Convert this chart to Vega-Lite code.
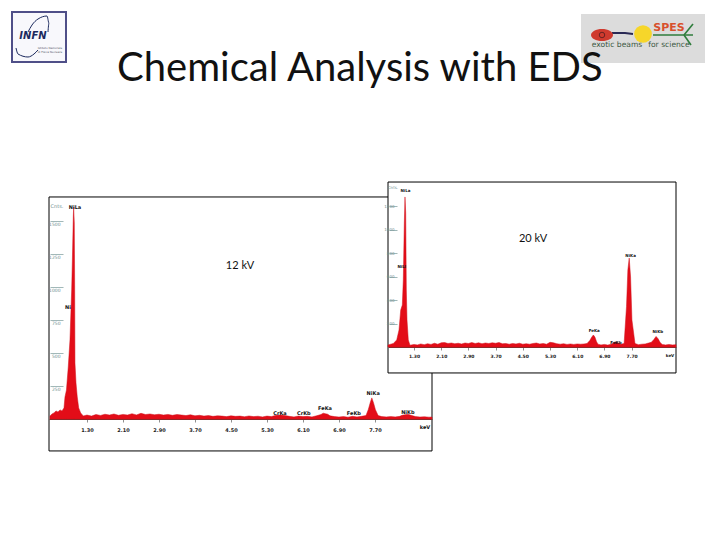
{
"$schema":"https://vega.github.io/schema/vega-lite/v6.json",
"width":720,"height":540,"padding":0,"autosize":{"type":"none"},"background":"white",
"config":{"view":{"stroke":null}},
"title":{"text":"Chemical Analysis with EDS","anchor":"start","orient":"top","frame":"group","dx":117,"offset":-121,"font":"Lato","fontSize":40,"fontWeight":"normal","color":"#111111","baseline":"alphabetic"},
"datasets":{
"s1":[{"kev":0.478,"count":23},{"kev":0.522,"count":38},{"kev":0.567,"count":46},{"kev":0.611,"count":61},{"kev":0.656,"count":53},{"kev":0.7,"count":69},{"kev":0.744,"count":61},{"kev":0.789,"count":84},{"kev":0.811,"count":167},{"kev":0.844,"count":220},{"kev":0.884,"count":394},{"kev":0.922,"count":599},{"kev":0.96,"count":978},{"kev":0.982,"count":1303},{"kev":0.996,"count":1531},{"kev":1.004,"count":1606},{"kev":1.018,"count":1485},{"kev":1.027,"count":978},{"kev":1.033,"count":425},{"kev":1.056,"count":273},{"kev":1.084,"count":167},{"kev":1.116,"count":84},{"kev":1.16,"count":46},{"kev":1.218,"count":23},{"kev":1.3,"count":30},{"kev":1.4,"count":22},{"kev":1.5,"count":34},{"kev":1.6,"count":27},{"kev":1.7,"count":36},{"kev":1.8,"count":30},{"kev":1.9,"count":38},{"kev":2.0,"count":28},{"kev":2.1,"count":35},{"kev":2.2,"count":30},{"kev":2.3,"count":40},{"kev":2.4,"count":31},{"kev":2.5,"count":43},{"kev":2.6,"count":34},{"kev":2.7,"count":38},{"kev":2.8,"count":32},{"kev":2.9,"count":36},{"kev":3.0,"count":30},{"kev":3.1,"count":35},{"kev":3.2,"count":28},{"kev":3.3,"count":34},{"kev":3.4,"count":30},{"kev":3.5,"count":26},{"kev":3.6,"count":32},{"kev":3.7,"count":24},{"kev":3.8,"count":28},{"kev":3.9,"count":22},{"kev":4.0,"count":26},{"kev":4.1,"count":20},{"kev":4.2,"count":24},{"kev":4.3,"count":22},{"kev":4.4,"count":18},{"kev":4.5,"count":24},{"kev":4.6,"count":20},{"kev":4.7,"count":22},{"kev":4.8,"count":17},{"kev":4.9,"count":23},{"kev":5.0,"count":18},{"kev":5.1,"count":21},{"kev":5.2,"count":16},{"kev":5.3,"count":22},{"kev":5.4,"count":18},{"kev":5.5,"count":28},{"kev":5.6,"count":30},{"kev":5.7,"count":26},{"kev":5.8,"count":20},{"kev":5.9,"count":16},{"kev":6.0,"count":22},{"kev":6.1,"count":18},{"kev":6.2,"count":20},{"kev":6.3,"count":16},{"kev":6.4,"count":24},{"kev":6.5,"count":34},{"kev":6.55,"count":44},{"kev":6.6,"count":40},{"kev":6.65,"count":36},{"kev":6.7,"count":24},{"kev":6.8,"count":18},{"kev":6.9,"count":15},{"kev":7.0,"count":18},{"kev":7.1,"count":14},{"kev":7.2,"count":20},{"kev":7.3,"count":16},{"kev":7.4,"count":20},{"kev":7.5,"count":26},{"kev":7.55,"count":70},{"kev":7.6,"count":130},{"kev":7.63,"count":160},{"kev":7.67,"count":120},{"kev":7.71,"count":70},{"kev":7.77,"count":26},{"kev":7.85,"count":18},{"kev":7.95,"count":16},{"kev":8.05,"count":18},{"kev":8.15,"count":16},{"kev":8.25,"count":20},{"kev":8.3,"count":28},{"kev":8.4,"count":34},{"kev":8.45,"count":34},{"kev":8.5,"count":28},{"kev":8.6,"count":18},{"kev":8.7,"count":15},{"kev":8.8,"count":17},{"kev":8.9,"count":14},{"kev":8.967,"count":15}],
"s1frame":[{"kev":0.456,"kev2":8.967,"count":-242,"count2":1682}],
"s1labels":[{"kev":1.033,"count":1606,"label":"NiLa"},{"kev":0.878,"count":848,"label":"Ni"},{"kev":5.59,"count":45,"label":"CrKa"},{"kev":6.12,"count":45,"label":"CrKb"},{"kev":6.59,"count":83,"label":"FeKa"},{"kev":7.23,"count":45,"label":"FeKb"},{"kev":7.66,"count":197,"label":"NiKa"},{"kev":8.43,"count":53,"label":"NiKb"},{"kev":8.81,"count":-61,"label":"keV"}],
"s1cnts":[{"kev":0.633,"count":1614,"label":"Cnts."}],
"s1note":[{"kev":4.7,"count":1159,"label":"12 kV"}],
"s2":[{"kev":0.535,"count":17},{"kev":0.565,"count":20},{"kev":0.692,"count":30},{"kev":0.791,"count":60},{"kev":0.859,"count":145},{"kev":0.909,"count":315},{"kev":0.956,"count":357},{"kev":0.985,"count":570},{"kev":1.015,"count":1055},{"kev":1.035,"count":1277},{"kev":1.056,"count":1140},{"kev":1.074,"count":485},{"kev":1.094,"count":230},{"kev":1.132,"count":60},{"kev":1.182,"count":15},{"kev":1.3,"count":22},{"kev":1.4,"count":18},{"kev":1.5,"count":26},{"kev":1.6,"count":20},{"kev":1.7,"count":28},{"kev":1.8,"count":22},{"kev":1.9,"count":32},{"kev":2.0,"count":24},{"kev":2.1,"count":36},{"kev":2.2,"count":38},{"kev":2.3,"count":30},{"kev":2.4,"count":34},{"kev":2.5,"count":28},{"kev":2.6,"count":32},{"kev":2.7,"count":26},{"kev":2.8,"count":34},{"kev":2.9,"count":30},{"kev":3.0,"count":38},{"kev":3.1,"count":30},{"kev":3.2,"count":36},{"kev":3.3,"count":28},{"kev":3.4,"count":34},{"kev":3.5,"count":30},{"kev":3.6,"count":36},{"kev":3.7,"count":32},{"kev":3.8,"count":38},{"kev":3.9,"count":28},{"kev":4.0,"count":30},{"kev":4.1,"count":24},{"kev":4.2,"count":30},{"kev":4.3,"count":26},{"kev":4.4,"count":32},{"kev":4.5,"count":24},{"kev":4.6,"count":28},{"kev":4.7,"count":24},{"kev":4.8,"count":30},{"kev":4.9,"count":34},{"kev":5.0,"count":26},{"kev":5.1,"count":30},{"kev":5.2,"count":24},{"kev":5.3,"count":40},{"kev":5.4,"count":36},{"kev":5.5,"count":28},{"kev":5.6,"count":24},{"kev":5.7,"count":28},{"kev":5.8,"count":22},{"kev":5.9,"count":26},{"kev":6.0,"count":22},{"kev":6.1,"count":26},{"kev":6.2,"count":24},{"kev":6.3,"count":26},{"kev":6.39,"count":30},{"kev":6.47,"count":55},{"kev":6.53,"count":85},{"kev":6.575,"count":102},{"kev":6.62,"count":85},{"kev":6.67,"count":45},{"kev":6.71,"count":24},{"kev":6.8,"count":18},{"kev":6.9,"count":22},{"kev":7.0,"count":16},{"kev":7.1,"count":24},{"kev":7.18,"count":36},{"kev":7.23,"count":42},{"kev":7.3,"count":36},{"kev":7.38,"count":24},{"kev":7.48,"count":30},{"kev":7.55,"count":343},{"kev":7.59,"count":655},{"kev":7.63,"count":757},{"kev":7.67,"count":596},{"kev":7.71,"count":230},{"kev":7.8,"count":30},{"kev":7.9,"count":20},{"kev":8.0,"count":24},{"kev":8.1,"count":26},{"kev":8.2,"count":34},{"kev":8.28,"count":40},{"kev":8.35,"count":62},{"kev":8.42,"count":90},{"kev":8.48,"count":70},{"kev":8.54,"count":38},{"kev":8.6,"count":22},{"kev":8.7,"count":18},{"kev":8.8,"count":22},{"kev":8.9,"count":18},{"kev":9.006,"count":20}],
"s2frame":[{"kev":0.535,"kev2":9.006,"count":-221,"count2":1404}],
"s2labels":[{"kev":1.05,"count":1330,"label":"NiLa"},{"kev":0.94,"count":681,"label":"NiLl"},{"kev":6.6,"count":134,"label":"FeKa"},{"kev":7.24,"count":37,"label":"FeKb"},{"kev":7.67,"count":777,"label":"NiKa"},{"kev":8.47,"count":128,"label":"NiKb"},{"kev":8.83,"count":-74,"label":"keV"}],
"s2cnts":[{"kev":0.68,"count":1353,"label":"Cnts."}],
"s2note":[{"kev":4.8,"count":919,"label":"20 kV"}],
"infnBox":[{"a":0,"a2":54,"b":0,"b2":50}],
"infnArcs":[{"part":"upper","seq":1,"a":16,"b":20},{"part":"upper","seq":2,"a":20,"b":13},{"part":"upper","seq":3,"a":26,"b":7},{"part":"upper","seq":4,"a":35,"b":4},{"part":"upper","seq":5,"a":37,"b":11},{"part":"upper","seq":6,"a":36,"b":20},{"part":"lower","seq":1,"a":4,"b":36},{"part":"lower","seq":2,"a":6,"b":42},{"part":"lower","seq":3,"a":16,"b":45},{"part":"lower","seq":4,"a":22,"b":42},{"part":"lower","seq":5,"a":26,"b":38}],
"infnWord":[{"a":21,"b":24,"label":"INFN"}],
"infnSmall":[{"a":38,"b":36,"label":"Istituto Nazionale"},{"a":38,"b":40,"label":"di Fisica Nucleare"}],
"spesBox":[{"a":0,"a2":124,"b":0,"b2":49}],
"spesYellow":[{"a":62,"b":20}],
"spesRed":[{"a":21,"b":21}],
"spesDark":[{"part":"beam","a":31,"b":19},{"part":"beam","a":44,"b":19},{"part":"beam","a":52,"b":20}],
"spesGreen":[{"part":"stem","a":72,"b":21},{"part":"stem","a":112,"b":21},{"part":"up","a":103,"b":21},{"part":"up","a":112,"b":10},{"part":"down","a":103,"b":21},{"part":"down","a":110,"b":31}],
"spesWord":[{"a":88,"b":14,"label":"SPES"}],
"spesCaption":[{"a":36,"b":31,"label":"exotic beams"},{"a":88,"b":31,"label":"for science"}]
},
"resolve":{"scale":{"x":"independent","y":"independent"},"axis":{"x":"independent","y":"independent"}},
"layer":[
{"encoding":{
 "x":{"field":"kev","type":"quantitative","scale":{"domain":[0.456,8.967],"range":[49,432],"nice":false,"zero":false},"axis":{"orient":"bottom","offset":-121,"values":[1.3,2.1,2.9,3.7,4.5,5.3,6.1,6.9,7.7],"format":".2f","title":null,"grid":false,"zindex":1,"domainColor":"#8a2a2a","domainWidth":1,"tickColor":"#444444","tickSize":3,"tickWidth":0.6,"labelFont":"DejaVu Sans","labelFontWeight":"bold","labelFontSize":5,"labelColor":"#222222","labelPadding":5,"labelOverlap":false,"labelFlush":false}},
 "y":{"field":"count","type":"quantitative","scale":{"domain":[-500,1750],"range":[485,188],"nice":false,"zero":false},"axis":{"orient":"left","offset":-63,"values":[250,500,750,1000,1250,1500],"title":null,"grid":false,"zindex":1,"domain":false,"tickColor":"#7a9a9a","tickSize":13,"tickWidth":0.7,"labelFont":"DejaVu Sans","labelFontSize":4.5,"labelColor":"#6f9090","labelPadding":-10,"labelAlign":"right","labelBaseline":"top","format":"d","labelOverlap":false,"labelFlush":false}}},
"layer":[
{"data":{"name":"s1frame"},"mark":{"type":"rect","fill":"white","stroke":"black","strokeWidth":1},"encoding":{"x2":{"field":"kev2"},"y2":{"field":"count2"}}},
{"data":{"name":"s1"},"mark":{"type":"area","orient":"vertical","color":"#e30d18","stroke":"#d0101a","strokeWidth":0.5},"encoding":{"y2":{"datum":0}}},
{"data":{"name":"s1labels"},"mark":{"type":"text","font":"DejaVu Sans","fontWeight":"bold","fontSize":5,"color":"#111111"},"encoding":{"text":{"field":"label"}}},
{"data":{"name":"s1cnts"},"mark":{"type":"text","font":"DejaVu Sans","fontSize":5,"color":"#6f9090"},"encoding":{"text":{"field":"label"}}},
{"data":{"name":"s1note"},"mark":{"type":"text","font":"Lato","fontSize":11,"color":"#111111"},"encoding":{"text":{"field":"label"}}}
]},
{"encoding":{
 "x":{"field":"kev","type":"quantitative","scale":{"domain":[0.535,9.006],"range":[388,676],"nice":false,"zero":false},"axis":{"orient":"bottom","offset":-193,"values":[1.3,2.1,2.9,3.7,4.5,5.3,6.1,6.9,7.7],"format":".2f","title":null,"grid":false,"zindex":1,"domainColor":"#8a2a2a","domainWidth":1,"tickColor":"#444444","tickSize":3,"tickWidth":0.6,"labelFont":"DejaVu Sans","labelFontWeight":"bold","labelFontSize":4.5,"labelColor":"#222222","labelPadding":3,"labelOverlap":false,"labelFlush":false}},
 "y":{"field":"count","type":"quantitative","scale":{"domain":[-300,1500],"range":[382.25,170.75],"nice":false,"zero":false},"axis":{"orient":"left","offset":-397,"values":[200,400,600,800,1000,1200],"title":null,"grid":false,"zindex":1,"domain":false,"tickColor":"#7a9a9a","tickSize":8,"tickWidth":0.7,"labelFont":"DejaVu Sans","labelFontSize":4,"labelColor":"#6f9090","labelPadding":-5,"labelAlign":"right","labelBaseline":"middle","format":"d","labelOverlap":false,"labelFlush":false}}},
"layer":[
{"data":{"name":"s2frame"},"mark":{"type":"rect","fill":"white","stroke":"black","strokeWidth":1},"encoding":{"x2":{"field":"kev2"},"y2":{"field":"count2"}}},
{"data":{"name":"s2"},"mark":{"type":"area","orient":"vertical","color":"#e30d18","stroke":"#d0101a","strokeWidth":0.5},"encoding":{"y2":{"datum":0}}},
{"data":{"name":"s2labels"},"mark":{"type":"text","font":"DejaVu Sans","fontWeight":"bold","fontSize":4,"color":"#111111"},"encoding":{"text":{"field":"label"}}},
{"data":{"name":"s2cnts"},"mark":{"type":"text","font":"DejaVu Sans","fontSize":4,"color":"#6f9090"},"encoding":{"text":{"field":"label"}}},
{"data":{"name":"s2note"},"mark":{"type":"text","font":"Lato","fontSize":11,"color":"#111111"},"encoding":{"text":{"field":"label"}}}
]},
{"encoding":{
 "x":{"field":"a","type":"quantitative","axis":null,"scale":{"domain":[0,54],"range":[12,66],"nice":false,"zero":false}},
 "y":{"field":"b","type":"quantitative","axis":null,"scale":{"domain":[0,50],"range":[12,62],"nice":false,"zero":false}}},
"layer":[
{"data":{"name":"infnBox"},"mark":{"type":"rect","fill":"#f8f8fc","stroke":"#4f4f88","strokeWidth":2},"encoding":{"x2":{"field":"a2"},"y2":{"field":"b2"}}},
{"data":{"name":"infnArcs"},"mark":{"type":"line","interpolate":"monotone","color":"#1c2a5e","strokeWidth":1},"encoding":{"detail":{"field":"part"},"order":{"field":"seq","type":"quantitative"}}},
{"data":{"name":"infnWord"},"mark":{"type":"text","font":"DejaVu Sans","fontSize":10,"fontWeight":"bold","fontStyle":"italic","color":"#1c2a5e"},"encoding":{"text":{"field":"label"}}},
{"data":{"name":"infnSmall"},"mark":{"type":"text","font":"DejaVu Sans","fontSize":2.8,"color":"#555566"},"encoding":{"text":{"field":"label"}}}
]},
{"encoding":{
 "x":{"field":"a","type":"quantitative","axis":null,"scale":{"domain":[0,124],"range":[581,705],"nice":false,"zero":false}},
 "y":{"field":"b","type":"quantitative","axis":null,"scale":{"domain":[0,49],"range":[14,63],"nice":false,"zero":false}}},
"layer":[
{"data":{"name":"spesBox"},"mark":{"type":"rect","fill":"#dcdcdc"},"encoding":{"x2":{"field":"a2"},"y2":{"field":"b2"}}},
{"data":{"name":"spesDark"},"mark":{"type":"line","color":"#2a2a55","strokeWidth":2},"encoding":{"detail":{"field":"part"}}},
{"data":{"name":"spesRed"},"mark":{"type":"point","filled":true,"opacity":1,"color":"#cf3a2e","size":484,"shape":"M-1,0A1,0.55 0 1,1 1,0A1,0.55 0 1,1 -1,0Z"}},
{"data":{"name":"spesRed"},"mark":{"type":"point","filled":false,"opacity":1,"color":"#6a2222","strokeWidth":1,"size":30,"shape":"circle"}},
{"data":{"name":"spesYellow"},"mark":{"type":"point","filled":true,"opacity":1,"color":"#f6d62a","size":314,"shape":"circle"}},
{"data":{"name":"spesGreen"},"mark":{"type":"line","color":"#2f7d3c","strokeWidth":1.6},"encoding":{"detail":{"field":"part"},"order":{"field":"a","type":"quantitative"}}},
{"data":{"name":"spesWord"},"mark":{"type":"text","font":"DejaVu Sans","fontSize":11,"fontWeight":"bold","color":"#d8502c"},"encoding":{"text":{"field":"label"}}},
{"data":{"name":"spesCaption"},"mark":{"type":"text","font":"DejaVu Sans","fontSize":7.6,"color":"#3d5a45"},"encoding":{"text":{"field":"label"}}}
]}
]
}
